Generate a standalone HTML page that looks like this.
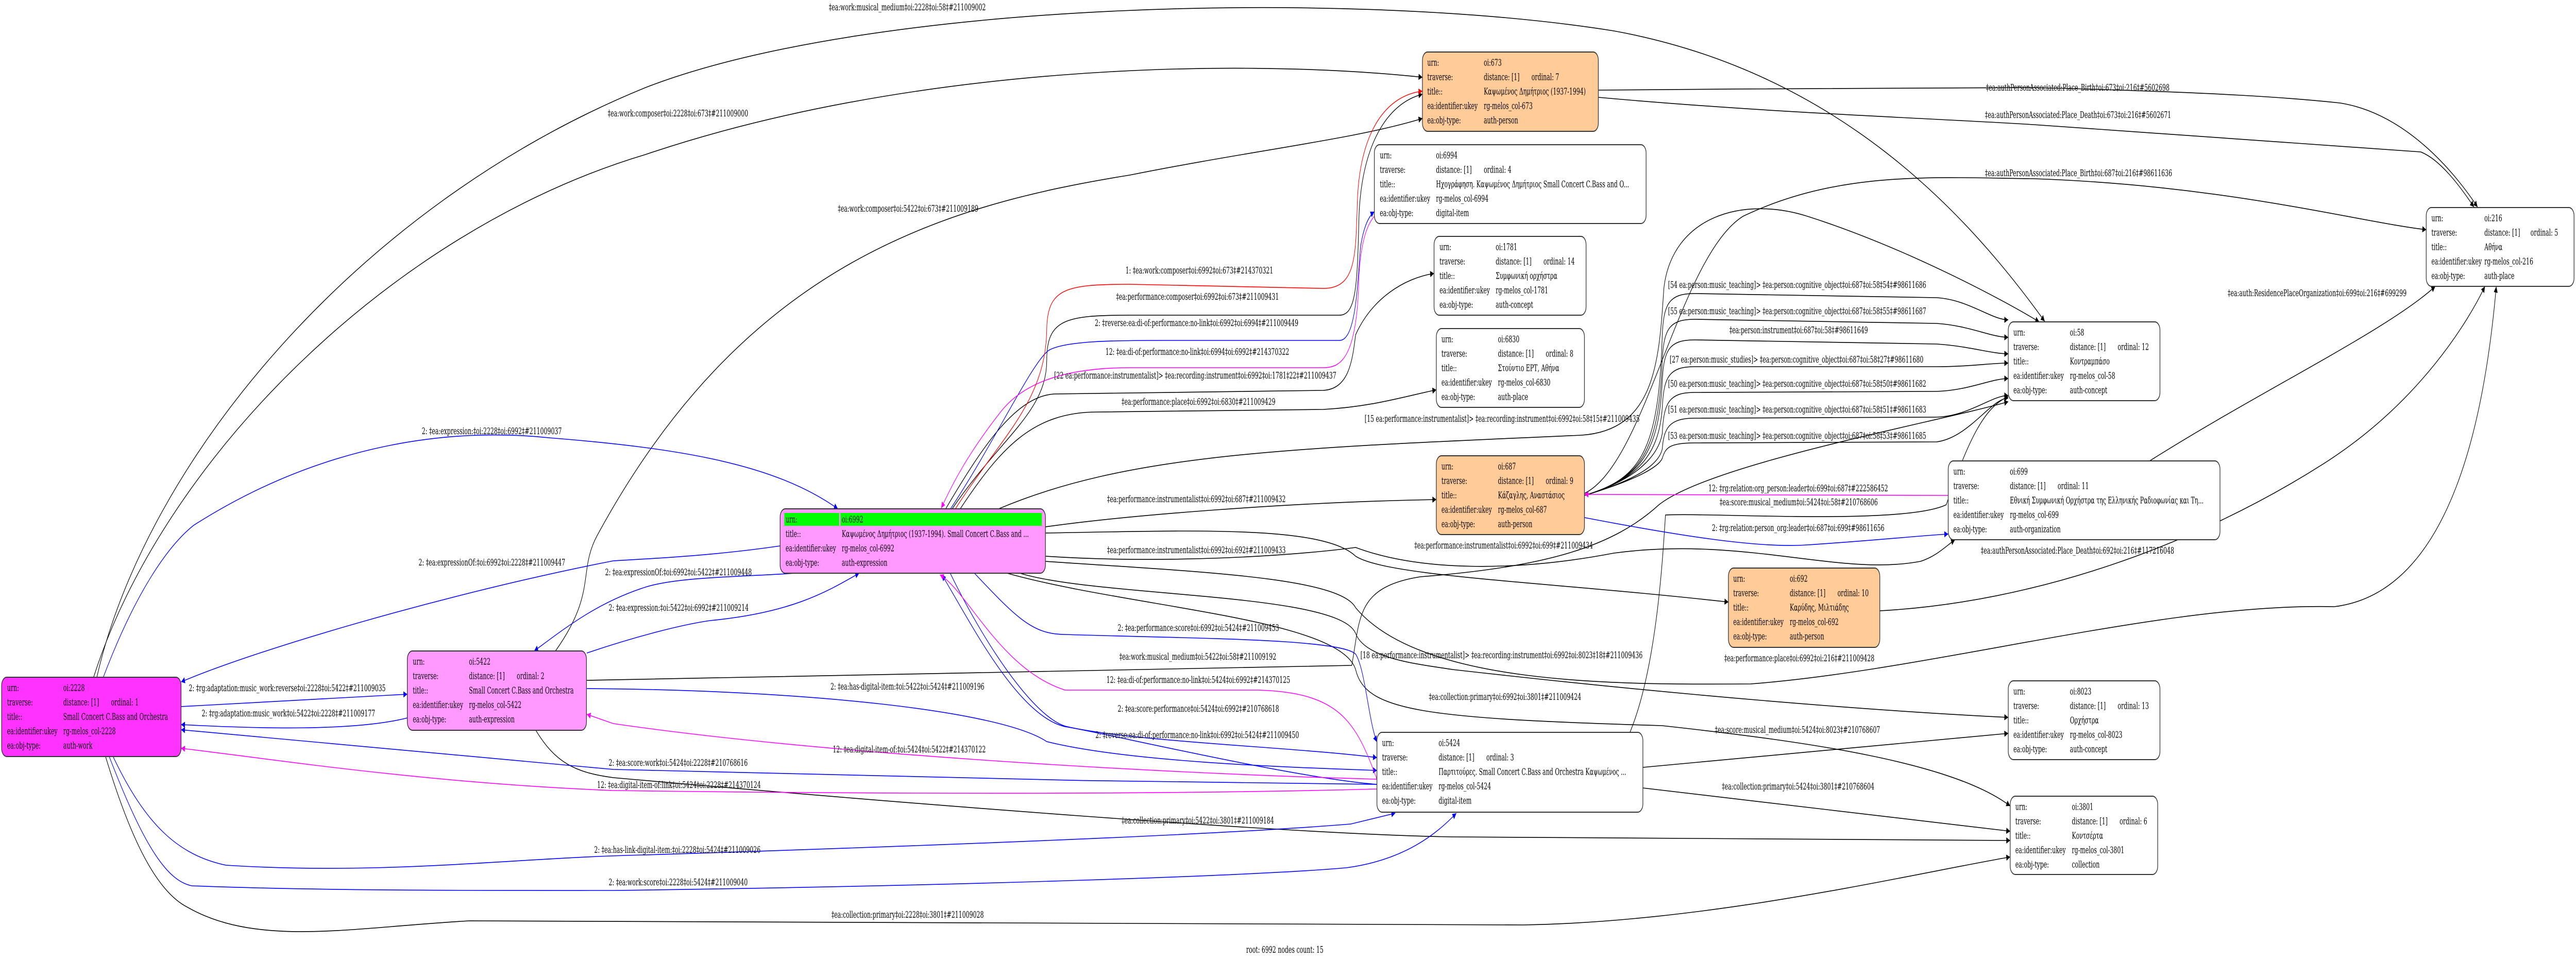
<!DOCTYPE html>
<html><head><meta charset="utf-8"><style>
html,body{margin:0;padding:0;background:#fff;overflow:hidden;width:100%;height:100%}
svg{display:block;width:100vw;height:100vh;position:absolute;left:0;top:0}
text{font-family:"DejaVu Serif","Liberation Serif",serif;font-size:17.5px;fill:#000}
.k{stroke:#000;fill:none;stroke-width:1.6}
.b{stroke:#0000ff;fill:none;stroke-width:1.6}
.m{stroke:#ff00ff;fill:none;stroke-width:1.6}
.r{stroke:#ff0000;fill:none;stroke-width:1.6}
.nd{stroke:#333;stroke-width:2}
</style></head><body>
<svg viewBox="0 0 7981 1866" preserveAspectRatio="none" xmlns="http://www.w3.org/2000/svg">
<defs>
<marker id="ak" viewBox="0 0 10 10" refX="10" refY="5" markerWidth="16" markerHeight="12" markerUnits="userSpaceOnUse" orient="auto"><path d="M0,0L10,5L0,10z" fill="#000"/></marker>
<marker id="ab" viewBox="0 0 10 10" refX="10" refY="5" markerWidth="16" markerHeight="12" markerUnits="userSpaceOnUse" orient="auto"><path d="M0,0L10,5L0,10z" fill="#0000ff"/></marker>
<marker id="am" viewBox="0 0 10 10" refX="10" refY="5" markerWidth="16" markerHeight="12" markerUnits="userSpaceOnUse" orient="auto"><path d="M0,0L10,5L0,10z" fill="#ff00ff"/></marker>
<marker id="ar" viewBox="0 0 10 10" refX="10" refY="5" markerWidth="16" markerHeight="12" markerUnits="userSpaceOnUse" orient="auto"><path d="M0,0L10,5L0,10z" fill="#ff0000"/></marker>
</defs>

<g class="k" marker-end="url(#ak)">
<path d="M300,1315 C450,900 1100,400 2000,170 C2700,0 4200,-20 5000,60 C5700,140 6100,420 6335,624"/>
<path d="M290,1315 C500,900 1200,450 2000,300 C2800,130 3800,110 4407,150"/>
<path d="M1721,1264 C1850,1150 1790,1110 1850,1040 C2300,520 2900,400 3500,340 C3900,290 4200,270 4407,230"/>
<path d="M2950,988 C3100,850 3243,800 3243,700 C3243,620 3300,612 3500,612 L4150,612 C4200,612 4205,560 4210,430 C4215,280 4300,200 4407,183"/>
<path d="M2930,988 C3050,860 3150,770 3266,765 L4100,758 C4180,755 4190,700 4200,650 C4250,580 4350,540 4443,531"/>
<path d="M2975,988 C3100,870 3200,800 3400,800 L4100,795 C4250,790 4350,770 4450,757"/>
<path d="M3094,988 C3500,880 4000,870 4900,845 C5130,835 5140,700 5155,560 C5180,420 5400,380 5600,420 C5900,480 6200,580 6318,625"/>
<path d="M3239,1023 C3500,1000 4000,975 4450,970"/>
<path d="M3239,1035 C3700,1030 4100,1020 4200,1080 C4300,1120 4800,1130 5355,1169"/>
<path d="M3239,1080 C3600,1095 4000,1080 4200,1063 C4400,1110 4700,1110 5000,1074 C5400,1040 5700,1120 5950,1090 C6000,1080 6030,1060 6057,1048"/>
<path d="M3160,1113 C3400,1160 4150,1150 4200,1230 C4230,1280 4400,1290 4500,1300 C5200,1350 5800,1380 6222,1393"/>
<path d="M3120,1113 C3500,1180 4150,1200 4200,1300 C4230,1380 4400,1395 5149,1409 C5600,1440 6050,1480 6228,1565"/>
<path d="M3239,1090 C3700,1110 4150,1120 4200,1180 C4400,1330 5000,1330 5424,1328 C6000,1300 6700,1170 7232,1178 C7600,1150 7700,800 7734,556"/>
<path d="M5824,1186 C6300,1170 6800,1060 7200,900 C7500,780 7650,620 7699,556"/>
<path d="M6660,895 C7000,760 7400,640 7545,556"/>
<path d="M4952,175 C5400,172 5800,172 6300,170 C6900,180 7100,190 7250,200 C7450,220 7600,330 7676,402"/>
<path d="M4952,189 C5500,220 6000,230 6300,242 L7500,295 C7560,310 7620,360 7665,402"/>
<path d="M4909,958 C5100,900 5200,500 5400,420 C5700,330 6000,345 6300,347 C6900,360 7300,430 7517,446"/>
<path d="M4909,962 C5080,930 5140,880 5150,650 C5155,590 5170,570 5250,570 L6000,578 C6100,582 6170,621 6222,621"/>
<path d="M4909,962 C5080,930 5140,880 5150,700 C5155,640 5170,620 5250,620 L6000,628 C6100,632 6170,655 6222,655"/>
<path d="M4909,962 C5080,930 5140,880 5150,740 C5155,680 5170,660 5250,660 L6000,668 C6100,672 6170,687 6222,687"/>
<path d="M4909,962 C5080,930 5140,880 5150,792 C5155,732 5170,712 5250,712 L6000,712 C6100,712 6170,705 6222,705"/>
<path d="M4909,962 C5080,930 5140,880 5150,842 C5155,782 5170,762 5250,762 L6000,760 C6100,758 6170,735 6222,735"/>
<path d="M4909,962 C5080,930 5140,900 5150,872 C5155,832 5170,812 5250,812 L6000,810 C6100,808 6170,768 6222,768"/>
<path d="M4909,962 C5080,930 5140,905 5150,890 C5160,870 5170,860 5250,860 L6000,858 C6100,850 6170,773 6222,773"/>
<path d="M5050,1422 C5130,1300 5150,1100 5160,1000 C5300,995 5900,1020 6030,980 C6100,850 6150,790 6222,770"/>
<path d="M5090,1490 L6222,1424"/>
<path d="M5090,1530 L6228,1614"/>
<path d="M1660,1418 C1720,1480 1780,1500 1900,1510 C2800,1560 4000,1620 4500,1625 L6228,1632"/>
<path d="M327,1469 C400,1620 480,1730 582,1762 C800,1840 1100,1800 1455,1788 L4719,1796 C5300,1790 5900,1700 6228,1664"/>
<path d="M1818,1321 C2500,1310 3900,1300 4188,1292 C4215,1200 4200,1140 4400,1120 C4800,1100 5000,1060 5140,980 C5300,900 6000,820 6222,780"/>
</g>

<g class="b" marker-end="url(#ab)">
<path d="M320,1315 C420,1150 520,1060 600,1020 C1000,860 1400,830 1700,850 C2100,870 2400,900 2596,988"/>
<path d="M2417,1060 C2200,1080 2000,1085 1900,1089 C1400,1150 800,1260 561,1324"/>
<path d="M561,1372 L1262,1348"/>
<path d="M1262,1394 C1100,1420 800,1415 561,1407"/>
<path d="M2463,1113 C2300,1120 2100,1120 2000,1140 C1850,1170 1750,1220 1655,1264"/>
<path d="M1818,1268 C1950,1240 2100,1214 2200,1205 C2450,1190 2560,1150 2662,1113"/>
<path d="M3019,1113 C3150,1200 3200,1232 3300,1232 C3700,1240 4150,1240 4200,1270 C4230,1300 4240,1400 4266,1441"/>
<path d="M2944,1113 C3050,1250 3200,1390 3300,1410 C3500,1440 4000,1450 4266,1471"/>
<path d="M1818,1337 C2500,1340 3100,1380 3243,1440 C3500,1480 4000,1490 4266,1496"/>
<path d="M4266,1523 C4000,1510 3400,1420 3300,1411 C3150,1390 3000,1200 2918,1116"/>
<path d="M4266,1523 C3500,1520 2500,1505 1900,1494 C1300,1460 800,1430 561,1417"/>
<path d="M351,1470 C450,1600 550,1660 700,1680 C1200,1700 1600,1665 2000,1660 C3000,1640 3800,1620 4185,1600 L4323,1579"/>
<path d="M339,1470 C450,1650 520,1710 594,1720 C1000,1730 1500,1729 1900,1729 C3000,1720 3900,1700 4171,1685 C4350,1670 4450,1620 4512,1579"/>
<path d="M2945,988 C3080,860 3200,700 3250,680 C3300,662 3450,661 3600,661 L4150,661 C4200,661 4205,560 4215,480 C4225,440 4240,420 4258,411"/>
<path d="M4909,1005 C5200,1040 5450,1065 5600,1058 C5800,1050 5950,1040 6036,1037"/>
</g>

<g class="m" marker-end="url(#am)">
<path d="M4258,420 C4230,440 4215,480 4210,540 C4205,700 4150,714 4100,714 L3500,714 C3250,714 3150,760 3100,800 C3000,880 2950,940 2916,987"/>
<path d="M4266,1513 C4200,1400 4150,1345 3900,1340 L3300,1340 C3100,1300 3000,1150 2912,1116"/>
<path d="M4266,1513 C3500,1500 2500,1460 1900,1405 L1818,1387"/>
<path d="M4266,1532 C3500,1545 2500,1540 1900,1535 C1300,1520 800,1470 561,1453"/>
<path d="M6036,962 L4909,960"/>
</g>
<g class="r" marker-end="url(#ar)">
<path d="M2960,988 C3100,850 3240,780 3243,640 C3245,560 3300,552 3500,552 L4100,560 C4200,560 4200,500 4205,400 C4210,250 4300,185 4407,177"/>
</g>

<g>
<text x="2568" y="20">‡ea:work:musical_medium‡oi:2228‡oi:58‡#211009002</text>
<text x="1883" y="226">‡ea:work:composer‡oi:2228‡oi:673‡#211009000</text>
<text x="2596" y="411">‡ea:work:composer‡oi:5422‡oi:673‡#211009189</text>
<text x="3487" y="531">1: ‡ea:work:composer‡oi:6992‡oi:673‡#214370321</text>
<text x="3458" y="582">‡ea:performance:composer‡oi:6992‡oi:673‡#211009431</text>
<text x="3392" y="633">2: ‡reverse:ea:di-of:performance:no-link‡oi:6992‡oi:6994‡#211009449</text>
<text x="3425" y="689">12: ‡ea:di-of:performance:no-link‡oi:6994‡oi:6992‡#214370322</text>
<text x="3266" y="735">[22 ea:performance:instrumentalist]&gt; ‡ea:recording:instrument‡oi:6992‡oi:1781‡22‡#211009437</text>
<text x="3475" y="786">‡ea:performance:place‡oi:6992‡oi:6830‡#211009429</text>
<text x="3430" y="975">‡ea:performance:instrumentalist‡oi:6992‡oi:687‡#211009432</text>
<text x="3430" y="1074">‡ea:performance:instrumentalist‡oi:6992‡oi:692‡#211009433</text>
<text x="1875" y="1117">2: ‡ea:expressionOf:‡oi:6992‡oi:5422‡#211009448</text>
<text x="1886" y="1186">2: ‡ea:expression:‡oi:5422‡oi:6992‡#211009214</text>
<text x="3463" y="1225">2: ‡ea:performance:score‡oi:6992‡oi:5424‡#211009453</text>
<text x="3468" y="1281">‡ea:work:musical_medium‡oi:5422‡oi:58‡#211009192</text>
<text x="3428" y="1326">12: ‡ea:di-of:performance:no-link‡oi:5424‡oi:6992‡#214370125</text>
<text x="2573" y="1339">2: ‡ea:has-digital-item:‡oi:5422‡oi:5424‡#211009196</text>
<text x="3463" y="1382">2: ‡ea:score:performance‡oi:5424‡oi:6992‡#210768618</text>
<text x="3394" y="1433">2: ‡reverse:ea:di-of:performance:no-link‡oi:6992‡oi:5424‡#211009450</text>
<text x="2580" y="1461">12: ‡ea:digital-item-of:‡oi:5424‡oi:5422‡#214370122</text>
<text x="1886" y="1487">2: ‡ea:score:work‡oi:5424‡oi:2228‡#210768616</text>
<text x="1850" y="1530">12: ‡ea:digital-item-of:link‡oi:5424‡oi:2228‡#214370124</text>
<text x="3475" y="1599">‡ea:collection:primary‡oi:5422‡oi:3801‡#211009184</text>
<text x="1841" y="1656">2: ‡ea:has-link-digital-item:‡oi:2228‡oi:5424‡#211009026</text>
<text x="1886" y="1719">2: ‡ea:work:score‡oi:2228‡oi:5424‡#211009040</text>
<text x="2576" y="1782">‡ea:collection:primary‡oi:2228‡oi:3801‡#211009028</text>
<text x="3861" y="1850">root: 6992 nodes count: 15</text>
<text x="1307" y="843">2: ‡ea:expression:‡oi:2228‡oi:6992‡#211009037</text>
<text x="1297" y="1098">2: ‡ea:expressionOf:‡oi:6992‡oi:2228‡#211009447</text>
<text x="585" y="1342">2: ‡rg:adaptation:music_work:reverse‡oi:2228‡oi:5422‡#211009035</text>
<text x="625" y="1391">2: ‡rg:adaptation:music_work‡oi:5422‡oi:2228‡#211009177</text>
<text x="4228" y="819">[15 ea:performance:instrumentalist]&gt; ‡ea:recording:instrument‡oi:6992‡oi:58‡15‡#211009435</text>
<text x="4382" y="1065">‡ea:performance:instrumentalist‡oi:6992‡oi:699‡#211009434</text>
<text x="4215" y="1278">[18 ea:performance:instrumentalist]&gt; ‡ea:recording:instrument‡oi:6992‡oi:8023‡18‡#211009436</text>
<text x="4427" y="1359">‡ea:collection:primary‡oi:6992‡oi:3801‡#211009424</text>
<text x="5168" y="559">[54 ea:person:music_teaching]&gt; ‡ea:person:cognitive_object‡oi:687‡oi:58‡54‡#98611686</text>
<text x="5168" y="610">[55 ea:person:music_teaching]&gt; ‡ea:person:cognitive_object‡oi:687‡oi:58‡55‡#98611687</text>
<text x="5358" y="647">‡ea:person:instrument‡oi:687‡oi:58‡#98611649</text>
<text x="5173" y="704">[27 ea:person:music_studies]&gt; ‡ea:person:cognitive_object‡oi:687‡oi:58‡27‡#98611680</text>
<text x="5168" y="751">[50 ea:person:music_teaching]&gt; ‡ea:person:cognitive_object‡oi:687‡oi:58‡50‡#98611682</text>
<text x="5168" y="801">[51 ea:person:music_teaching]&gt; ‡ea:person:cognitive_object‡oi:687‡oi:58‡51‡#98611683</text>
<text x="5168" y="852">[53 ea:person:music_teaching]&gt; ‡ea:person:cognitive_object‡oi:687‡oi:58‡53‡#98611685</text>
<text x="5293" y="954">12: ‡rg:relation:org_person:leader‡oi:699‡oi:687‡#222586452</text>
<text x="5328" y="981">‡ea:score:musical_medium‡oi:5424‡oi:58‡#210768606</text>
<text x="5304" y="1031">2: ‡rg:relation:person_org:leader‡oi:687‡oi:699‡#98611656</text>
<text x="6137" y="1075">‡ea:authPersonAssociated:Place_Death‡oi:692‡oi:216‡#117216048</text>
<text x="5342" y="1284">‡ea:performance:place‡oi:6992‡oi:216‡#211009428</text>
<text x="6902" y="575">‡ea:auth:ResidencePlaceOrganization‡oi:699‡oi:216‡#699299</text>
<text x="6153" y="176">‡ea:authPersonAssociated:Place_Birth‡oi:673‡oi:216‡#5602698</text>
<text x="6150" y="229">‡ea:authPersonAssociated:Place_Death‡oi:673‡oi:216‡#5602671</text>
<text x="6150" y="342">‡ea:authPersonAssociated:Place_Birth‡oi:687‡oi:216‡#98611636</text>
<text x="5313" y="1423">‡ea:score:musical_medium‡oi:5424‡oi:8023‡#210768607</text>
<text x="5335" y="1533">‡ea:collection:primary‡oi:5424‡oi:3801‡#210768604</text>
</g>

<g dominant-baseline="central">
<g><rect class="nd" x="5" y="1315" width="556" height="154" rx="16" fill="#ff33ff"/>
<text x="22" y="1336">urn:</text><text x="196" y="1336">oi:2228</text>
<text x="22" y="1364">traverse:</text><text x="196" y="1364">distance: [1]</text><text x="344" y="1364">ordinal: 1</text>
<text x="22" y="1392">title::</text><text x="196" y="1392">Small Concert C.Bass and Orchestra</text>
<text x="22" y="1420">ea:identifier:ukey</text><text x="196" y="1420">rg-melos_col-2228</text>
<text x="22" y="1448">ea:obj-type:</text><text x="196" y="1448">auth-work</text></g>
<g><rect class="nd" x="1262" y="1264" width="555" height="154" rx="16" fill="#ff99ff"/>
<text x="1279" y="1285">urn:</text><text x="1453" y="1285">oi:5422</text>
<text x="1279" y="1313">traverse:</text><text x="1453" y="1313">distance: [1]</text><text x="1601" y="1313">ordinal: 2</text>
<text x="1279" y="1341">title::</text><text x="1453" y="1341">Small Concert C.Bass and Orchestra</text>
<text x="1279" y="1369">ea:identifier:ukey</text><text x="1453" y="1369">rg-melos_col-5422</text>
<text x="1279" y="1397">ea:obj-type:</text><text x="1453" y="1397">auth-expression</text></g>
<g><rect class="nd" x="2417" y="988" width="822" height="125" rx="16" fill="#ff99ff"/>
<rect x="2430" y="996" width="170" height="25" fill="#00ff00"/><rect x="2604" y="996" width="624" height="25" fill="#00ff00"/>
<text x="2434" y="1009">urn:</text><text x="2608" y="1009">oi:6992</text>
<text x="2434" y="1037">title::</text><text x="2608" y="1037">Καψωμένος Δημήτριος (1937-1994). Small Concert C.Bass and ...</text>
<text x="2434" y="1065">ea:identifier:ukey</text><text x="2608" y="1065">rg-melos_col-6992</text>
<text x="2434" y="1093">ea:obj-type:</text><text x="2608" y="1093">auth-expression</text></g>
<g><rect class="nd" x="4407" y="101" width="545" height="154" rx="16" fill="#ffcc99"/>
<text x="4422" y="122">urn:</text><text x="4597" y="122">oi:673</text>
<text x="4422" y="150">traverse:</text><text x="4597" y="150">distance: [1]</text><text x="4745" y="150">ordinal: 7</text>
<text x="4422" y="178">title::</text><text x="4597" y="178">Καψωμένος Δημήτριος (1937-1994)</text>
<text x="4422" y="206">ea:identifier:ukey</text><text x="4597" y="206">rg-melos_col-673</text>
<text x="4422" y="234">ea:obj-type:</text><text x="4597" y="234">auth-person</text></g>
<g><rect class="nd" x="4258" y="281" width="842" height="153" rx="16" fill="#fff"/>
<text x="4275" y="302">urn:</text><text x="4449" y="302">oi:6994</text>
<text x="4275" y="330">traverse:</text><text x="4449" y="330">distance: [1]</text><text x="4597" y="330">ordinal: 4</text>
<text x="4275" y="358">title::</text><text x="4449" y="358">Ηχογράφηση. Καψωμένος Δημήτριος Small Concert C.Bass and O...</text>
<text x="4275" y="386">ea:identifier:ukey</text><text x="4449" y="386">rg-melos_col-6994</text>
<text x="4275" y="414">ea:obj-type:</text><text x="4449" y="414">digital-item</text></g>
<g><rect class="nd" x="4443" y="459" width="471" height="153" rx="16" fill="#fff"/>
<text x="4460" y="480">urn:</text><text x="4634" y="480">oi:1781</text>
<text x="4460" y="508">traverse:</text><text x="4634" y="508">distance: [1]</text><text x="4782" y="508">ordinal: 14</text>
<text x="4460" y="536">title::</text><text x="4634" y="536">Συμφωνική ορχήστρα</text>
<text x="4460" y="564">ea:identifier:ukey</text><text x="4634" y="564">rg-melos_col-1781</text>
<text x="4460" y="592">ea:obj-type:</text><text x="4634" y="592">auth-concept</text></g>
<g><rect class="nd" x="4450" y="638" width="459" height="153" rx="16" fill="#fff"/>
<text x="4466" y="659">urn:</text><text x="4641" y="659">oi:6830</text>
<text x="4466" y="687">traverse:</text><text x="4641" y="687">distance: [1]</text><text x="4789" y="687">ordinal: 8</text>
<text x="4466" y="715">title::</text><text x="4641" y="715">Στούντιο ΕΡΤ, Αθήνα</text>
<text x="4466" y="743">ea:identifier:ukey</text><text x="4641" y="743">rg-melos_col-6830</text>
<text x="4466" y="771">ea:obj-type:</text><text x="4641" y="771">auth-place</text></g>
<g><rect class="nd" x="4450" y="885" width="459" height="153" rx="16" fill="#ffcc99"/>
<text x="4466" y="906">urn:</text><text x="4641" y="906">oi:687</text>
<text x="4466" y="934">traverse:</text><text x="4641" y="934">distance: [1]</text><text x="4789" y="934">ordinal: 9</text>
<text x="4466" y="962">title::</text><text x="4641" y="962">Κάζαγλης, Αναστάσιος</text>
<text x="4466" y="990">ea:identifier:ukey</text><text x="4641" y="990">rg-melos_col-687</text>
<text x="4466" y="1018">ea:obj-type:</text><text x="4641" y="1018">auth-person</text></g>
<g><rect class="nd" x="5355" y="1103" width="469" height="154" rx="16" fill="#ffcc99"/>
<text x="5370" y="1124">urn:</text><text x="5545" y="1124">oi:692</text>
<text x="5370" y="1152">traverse:</text><text x="5545" y="1152">distance: [1]</text><text x="5693" y="1152">ordinal: 10</text>
<text x="5370" y="1180">title::</text><text x="5545" y="1180">Καρύδης, Μιλτιάδης</text>
<text x="5370" y="1208">ea:identifier:ukey</text><text x="5545" y="1208">rg-melos_col-692</text>
<text x="5370" y="1236">ea:obj-type:</text><text x="5545" y="1236">auth-person</text></g>
<g><rect class="nd" x="4266" y="1422" width="824" height="155" rx="16" fill="#fff"/>
<text x="4282" y="1443">urn:</text><text x="4457" y="1443">oi:5424</text>
<text x="4282" y="1471">traverse:</text><text x="4457" y="1471">distance: [1]</text><text x="4605" y="1471">ordinal: 3</text>
<text x="4282" y="1499">title::</text><text x="4457" y="1499">Παρτιτούρες. Small Concert C.Bass and Orchestra Καψωμένος ...</text>
<text x="4282" y="1527">ea:identifier:ukey</text><text x="4457" y="1527">rg-melos_col-5424</text>
<text x="4282" y="1555">ea:obj-type:</text><text x="4457" y="1555">digital-item</text></g>
<g><rect class="nd" x="6222" y="625" width="470" height="153" rx="16" fill="#fff"/>
<text x="6238" y="646">urn:</text><text x="6413" y="646">oi:58</text>
<text x="6238" y="674">traverse:</text><text x="6413" y="674">distance: [1]</text><text x="6561" y="674">ordinal: 12</text>
<text x="6238" y="702">title::</text><text x="6413" y="702">Κοντραμπάσο</text>
<text x="6238" y="730">ea:identifier:ukey</text><text x="6413" y="730">rg-melos_col-58</text>
<text x="6238" y="758">ea:obj-type:</text><text x="6413" y="758">auth-concept</text></g>
<g><rect class="nd" x="6036" y="895" width="842" height="153" rx="16" fill="#fff"/>
<text x="6052" y="916">urn:</text><text x="6227" y="916">oi:699</text>
<text x="6052" y="944">traverse:</text><text x="6227" y="944">distance: [1]</text><text x="6375" y="944">ordinal: 11</text>
<text x="6052" y="972">title::</text><text x="6227" y="972">Εθνική Συμφωνική Ορχήστρα της Ελληνικής Ραδιοφωνίας και Τη...</text>
<text x="6052" y="1000">ea:identifier:ukey</text><text x="6227" y="1000">rg-melos_col-699</text>
<text x="6052" y="1028">ea:obj-type:</text><text x="6227" y="1028">auth-organization</text></g>
<g><rect class="nd" x="7517" y="403" width="458" height="153" rx="16" fill="#fff"/>
<text x="7533" y="424">urn:</text><text x="7697" y="424">oi:216</text>
<text x="7533" y="452">traverse:</text><text x="7697" y="452">distance: [1]</text><text x="7840" y="452">ordinal: 5</text>
<text x="7533" y="480">title::</text><text x="7697" y="480">Αθήνα</text>
<text x="7533" y="508">ea:identifier:ukey</text><text x="7697" y="508">rg-melos_col-216</text>
<text x="7533" y="536">ea:obj-type:</text><text x="7697" y="536">auth-place</text></g>
<g><rect class="nd" x="6222" y="1322" width="470" height="153" rx="16" fill="#fff"/>
<text x="6238" y="1343">urn:</text><text x="6413" y="1343">oi:8023</text>
<text x="6238" y="1371">traverse:</text><text x="6413" y="1371">distance: [1]</text><text x="6561" y="1371">ordinal: 13</text>
<text x="6238" y="1399">title::</text><text x="6413" y="1399">Ορχήστρα</text>
<text x="6238" y="1427">ea:identifier:ukey</text><text x="6413" y="1427">rg-melos_col-8023</text>
<text x="6238" y="1455">ea:obj-type:</text><text x="6413" y="1455">auth-concept</text></g>
<g><rect class="nd" x="6228" y="1546" width="457" height="152" rx="16" fill="#fff"/>
<text x="6244" y="1567">urn:</text><text x="6419" y="1567">oi:3801</text>
<text x="6244" y="1595">traverse:</text><text x="6419" y="1595">distance: [1]</text><text x="6567" y="1595">ordinal: 6</text>
<text x="6244" y="1623">title::</text><text x="6419" y="1623">Κοντσέρτα</text>
<text x="6244" y="1651">ea:identifier:ukey</text><text x="6419" y="1651">rg-melos_col-3801</text>
<text x="6244" y="1679">ea:obj-type:</text><text x="6419" y="1679">collection</text></g>
</g>
</svg>
</body></html>
